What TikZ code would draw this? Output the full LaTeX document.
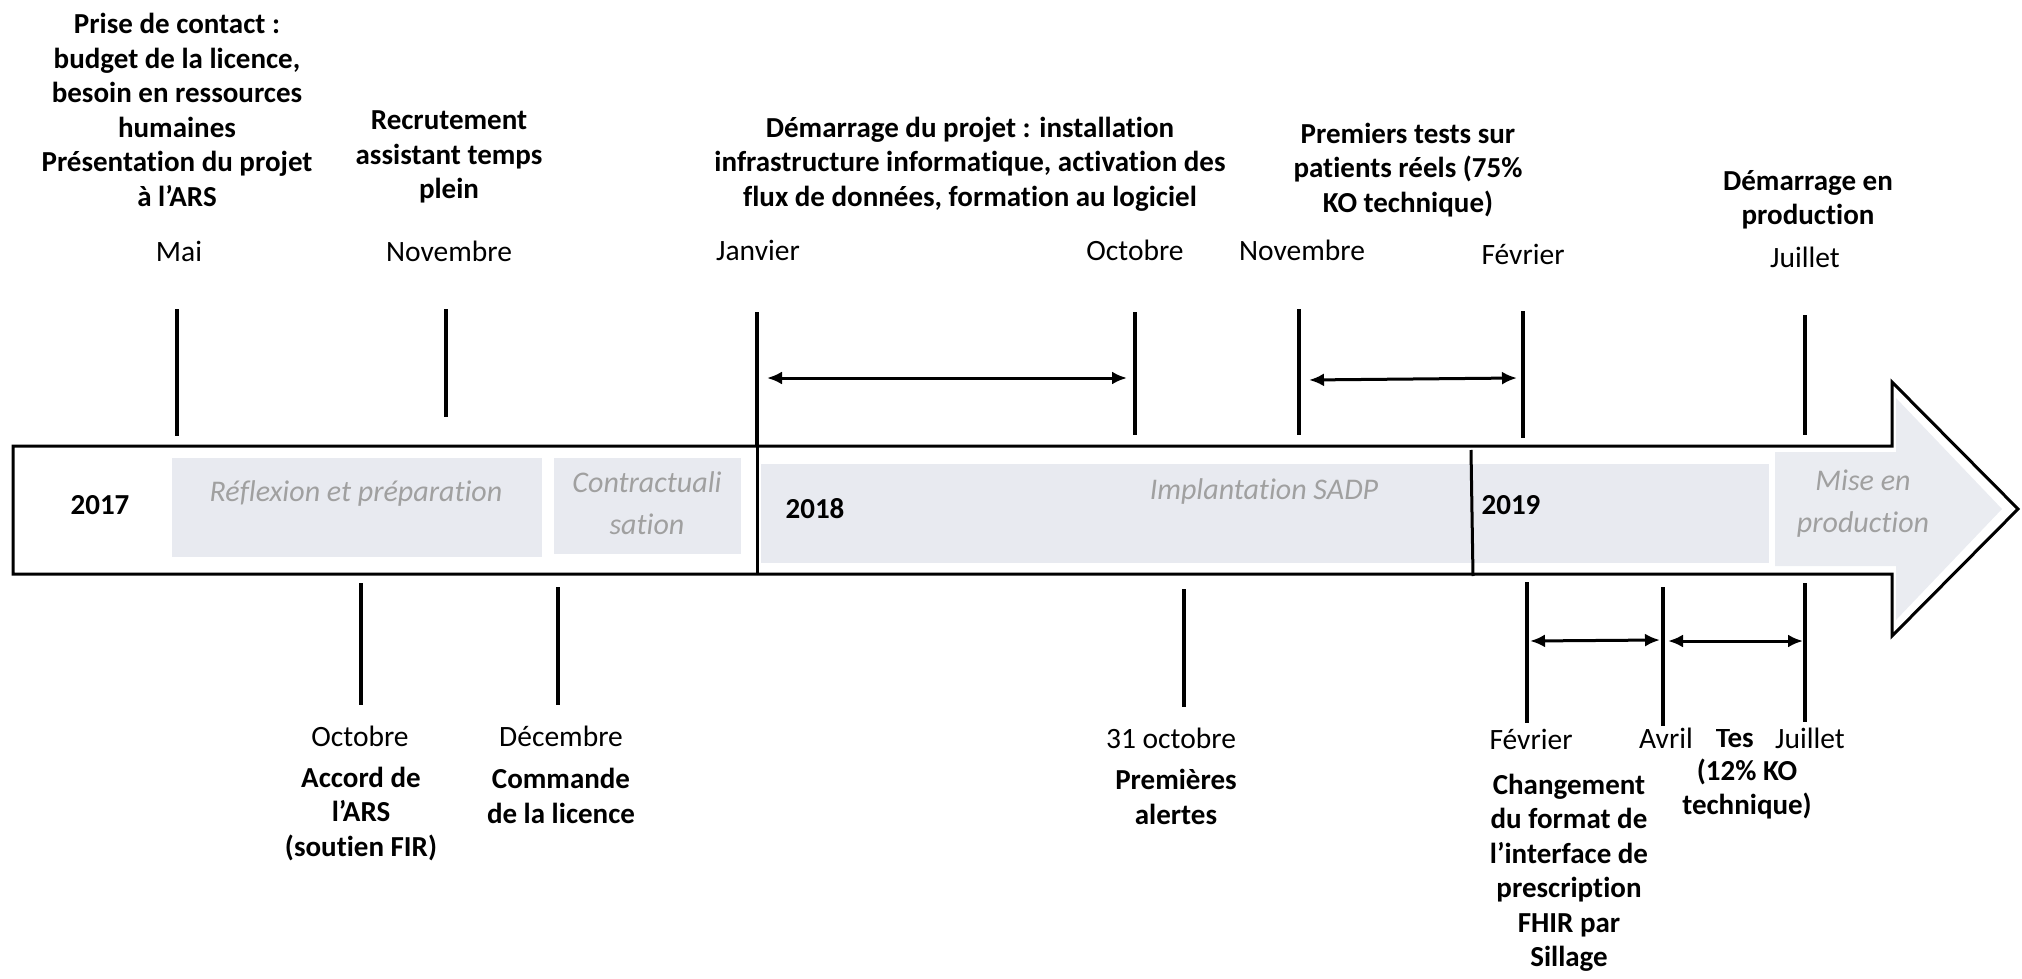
\documentclass[tikz,border=0pt]{standalone}
\usepackage{fontspec}
\setmainfont{Carlito}[Ligatures={NoCommon,NoRare}]
\usetikzlibrary{arrows.meta}
\definecolor{phase}{HTML}{E8EAF0}
\definecolor{phasehead}{HTML}{EAECF1}
\definecolor{phasetxt}{HTML}{A0A0A0}
\begin{document}
\begin{tikzpicture}[x=1pt,y=-1pt,
  lbl/.style={font=\fontsize{29.5}{34}\selectfont, align=center, inner sep=0pt},
  blbl/.style={font=\fontsize{29}{34.5}\selectfont\bfseries, align=center, inner sep=0pt},
  phs/.style={font=\fontsize{30}{42}\selectfont\itshape, text=phasetxt, align=center, inner sep=0pt},
  tickline/.style={line width=4pt},
  divider/.style={line width=3pt},
  spanarrow/.style={line width=3pt, {Latex[length=15pt,width=13pt]}-{Latex[length=15pt,width=13pt]}},
  phasebox/.style={fill=phase, draw=none},
]
\useasboundingbox (0,0) rectangle (2022,979);

% phase fills
\fill[phasebox] (172,458) rectangle (542,557);
\fill[phasebox] (554,458) rectangle (741,554);
\fill[phasebox] (761,464) rectangle (1769,563);
\fill[phasehead] (1775,452) -- (1896,452) -- (1896,398) -- (2002,509) -- (1896,620) -- (1896,566) -- (1775,566) -- cycle;

% big arrow outline
\draw[line width=3pt, line join=miter] (13,446) -- (1892,446) -- (1892,382) -- (2018,509) -- (1892,636) -- (1892,574) -- (13,574) -- cycle;

% phase labels
\node[phs] (p1) at (356,493) {Réflexion et préparation};
\node[phs] (p2) at (647,503) {Contractuali\\sation};
\node[phs] (p3) at (1264,491) {Implantation SADP};
\node[phs] (p4) at (1863,504) {Mise en\\production};

% years
\node[blbl] (y17) at (100,505) {2017};
\node[blbl] (y18) at (815,509) {2018};
\node[blbl] (y19) at (1511,505) {2019};

% year dividers
\coordinate (d18a) at (757,446); \coordinate (d18b) at (757,574);
\coordinate (d19a) at (1471,450); \coordinate (d19b) at (1473,576);
\draw[divider] (d18a) -- (d18b);
\draw[divider] (d19a) -- (d19b);

% top ticks
\coordinate (tMaiA) at (177,309); \coordinate (tMaiB) at (177,436);
\coordinate (tNovA) at (446,309); \coordinate (tNovB) at (446,417);
\coordinate (tJanA) at (757,312); \coordinate (tJanB) at (757,446);
\coordinate (tOctA) at (1135,312); \coordinate (tOctB) at (1135,435);
\coordinate (tNvbA) at (1299,309); \coordinate (tNvbB) at (1299,435);
\coordinate (tFevA) at (1523,311); \coordinate (tFevB) at (1523,438);
\coordinate (tJulA) at (1805,315); \coordinate (tJulB) at (1805,435);
\draw[tickline] (tMaiA) -- (tMaiB);
\draw[tickline] (tNovA) -- (tNovB);
\draw[tickline] (tJanA) -- (tJanB);
\draw[tickline] (tOctA) -- (tOctB);
\draw[tickline] (tNvbA) -- (tNvbB);
\draw[tickline] (tFevA) -- (tFevB);
\draw[tickline] (tJulA) -- (tJulB);

% bottom ticks
\coordinate (bOctA) at (361,583); \coordinate (bOctB) at (361,705);
\coordinate (bDecA) at (558,587); \coordinate (bDecB) at (558,705);
\coordinate (b31A) at (1184,589); \coordinate (b31B) at (1184,707);
\coordinate (bFevA) at (1527,582); \coordinate (bFevB) at (1527,723);
\coordinate (bAvrA) at (1663,587); \coordinate (bAvrB) at (1663,726);
\coordinate (bJulA) at (1805,583); \coordinate (bJulB) at (1805,722);
\draw[tickline] (bOctA) -- (bOctB);
\draw[tickline] (bDecA) -- (bDecB);
\draw[tickline] (b31A) -- (b31B);
\draw[tickline] (bFevA) -- (bFevB);
\draw[tickline] (bAvrA) -- (bAvrB);
\draw[tickline] (bJulA) -- (bJulB);

% span arrows
\coordinate (s1a) at (767,378); \coordinate (s1b) at (1127,378);
\coordinate (s2a) at (1309,380); \coordinate (s2b) at (1517,378);
\coordinate (s3a) at (1530,641); \coordinate (s3b) at (1660,640);
\coordinate (s4a) at (1668,641); \coordinate (s4b) at (1803,641);
\draw[spanarrow] (s1a) -- (s1b);
\draw[spanarrow] (s2a) -- (s2b);
\draw[spanarrow] (s3a) -- (s3b);
\draw[spanarrow] (s4a) -- (s4b);

% top texts
\node[blbl] (e1) at (177,110) {Prise de contact :\\budget de la licence,\\besoin en ressources\\humaines\\Présentation du projet\\à l’ARS};
\node[blbl] (e2) at (449,157) {Recrutement\\assistant temps\\plein};
\node[blbl] (e3) at (970,164) {Démarrage du projet : installation\\infrastructure informatique, activation des\\flux de données, formation au logiciel};
\node[blbl] (e4) at (1408,170) {Premiers tests sur\\patients réels (75\%\\KO technique)};
\node[blbl] (e5) at (1808,200) {Démarrage en\\production};

% top months
\node[lbl] (mMai) at (179,251) {Mai};
\node[lbl] (mNov) at (449,251) {Novembre};
\node[lbl] (mJan) at (758,250) {Janvier};
\node[lbl] (mOct) at (1135,250) {Octobre};
\node[lbl] (mNvb) at (1302,250) {Novembre};
\node[lbl] (mFev) at (1523,254) {Février};
\node[lbl, fill=white, inner sep=1pt] (mJul) at (1805,257) {Juillet};

% bottom partially hidden text
\begin{scope}
  \clip (1712,729) rectangle (1760,760);
  \node[blbl, anchor=east] (tests) at (1754,738) {Tes};
\end{scope}
\node[blbl] (e9) at (1747,789) {(12\% KO\\technique)};

% bottom months
\node[lbl] (bmOct) at (360,736) {Octobre};
\node[lbl] (bmDec) at (561,736) {Décembre};
\node[lbl] (bm31) at (1171,738) {31 octobre};
\node[lbl] (bmFev) at (1531,739) {Février};
\node[lbl] (bmAvr) at (1666,738) {Avril};
\node[lbl] (bmJul) at (1810,738) {Juillet};

% bottom texts
\node[blbl] (e6) at (361,814) {Accord de\\l’ARS\\(soutien FIR)};
\node[blbl] (e7) at (561,796) {Commande\\de la licence};
\node[blbl] (e8) at (1176,797) {Premières\\alertes};
\node[blbl] (e10) at (1569,873) {Changement\\du format de\\l’interface de\\prescription\\FHIR par\\Sillage};
\end{tikzpicture}
\end{document}
